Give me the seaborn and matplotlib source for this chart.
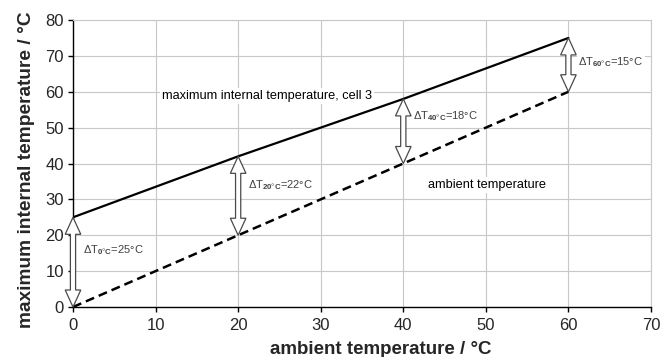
import matplotlib
matplotlib.use("Agg")
import matplotlib.pyplot as plt
from matplotlib.patches import Polygon
import seaborn as sns
import pandas as pd

# data
ambient_x = [0, 20, 40, 60]
max_internal = [25, 42, 58, 75]
ambient_line = [0, 20, 40, 60]
delta_labels = ["0°C", "20°C", "40°C", "60°C"]
delta_values = [25, 22, 18, 15]
x_ticks = [0, 10, 20, 30, 40, 50, 60, 70]
y_ticks = [0, 10, 20, 30, 40, 50, 60, 70, 80]

sns.set_style("whitegrid")
plt.rcParams['font.family'] = ['Liberation Sans', 'DejaVu Sans']
plt.rcParams['mathtext.fontset'] = 'custom'
plt.rcParams['mathtext.rm'] = 'Liberation Sans'
plt.rcParams['mathtext.bf'] = 'Liberation Sans:bold'

fig = plt.figure(figsize=(6.62, 3.57), dpi=100)
ax = fig.add_axes([73/662, 1-307/357, (651-73)/662, (307-20)/357])

df = pd.DataFrame({"x": ambient_x, "internal": max_internal, "ambient": ambient_line})
sns.lineplot(data=df, x="x", y="internal", ax=ax, color="black", lw=1.6)
sns.lineplot(data=df, x="x", y="ambient", ax=ax, color="black", lw=1.8,
             linestyle=(0, (3.6, 2.0)))

ax.set_xlim(0, 70)
ax.set_ylim(0, 80)
ax.set_xticks(x_ticks)
ax.set_yticks(y_ticks)
ax.grid(True, color="#c8c8c8", lw=0.8)
for s in ["top", "right"]:
    ax.spines[s].set_color("#c8c8c8")
    ax.spines[s].set_linewidth(0.8)
for s in ["left", "bottom"]:
    ax.spines[s].set_color("black")
    ax.spines[s].set_linewidth(1.0)
ax.tick_params(axis="both", which="both", direction="out", length=3.6, width=1,
               color="black", labelsize=12, left=True, bottom=True)
ax.tick_params(axis="x", pad=4.5)
ax.tick_params(axis="y", pad=3)
ax.set_xlabel("ambient temperature / °C", fontsize=13.5, fontweight="bold", va="center")
ax.set_ylabel("maximum internal temperature / °C", fontsize=13.8, fontweight="bold", va="center")
ax.xaxis.set_label_coords((381-73)/578, (307-349)/287)
ax.yaxis.set_label_coords((27-73)/578, (307-170)/287)

# hollow double-headed arrows, drawn in display coordinates
def double_arrow(x, y0, y1):
    px, p0 = ax.transData.transform((x, y0))
    _, p1 = ax.transData.transform((x, y1))
    sw, hw, hl = 2.6, 7.8, 17
    pts = [(px, p0), (px + hw, p0 + hl), (px + sw, p0 + hl), (px + sw, p1 - hl),
           (px + hw, p1 - hl), (px, p1), (px - hw, p1 - hl), (px - sw, p1 - hl),
           (px - sw, p0 + hl), (px - hw, p0 + hl)]
    poly = Polygon(pts, closed=True, transform=None, facecolor="white",
                   edgecolor="#4a4a4a", lw=0.9, zorder=5)
    fig.patches.append(poly)

for x, lo, v in zip(ambient_x, ambient_line, delta_values):
    double_arrow(x, lo, lo + v)

bg = dict(boxstyle="square,pad=0.15", facecolor="white", edgecolor="none")
label_y = [15.9, 34, 53.2, 68.3]
for x, lab, v, ly in zip(ambient_x, delta_labels, delta_values, label_y):
    ax.annotate("Δ" + "T$_{\\mathbf{" + lab.replace("°C", "}°\\mathbf{C}") + "}$=" + f"{v}°C",
                xy=(x, ly), xytext=(7.2, 0), textcoords="offset points",
                fontsize=8, color="#404040", va="center", ha="left", zorder=6, bbox=bg)

ax.text(10.8, 58.9, "maximum internal temperature, cell 3", fontsize=9.2,
        color="black", va="center", ha="left", bbox=bg, zorder=4)
ax.text(43.0, 34.0, "ambient temperature", fontsize=9.2, color="black",
        va="center", ha="left", bbox=bg, zorder=4)

fig.savefig("out.png", dpi=100)
